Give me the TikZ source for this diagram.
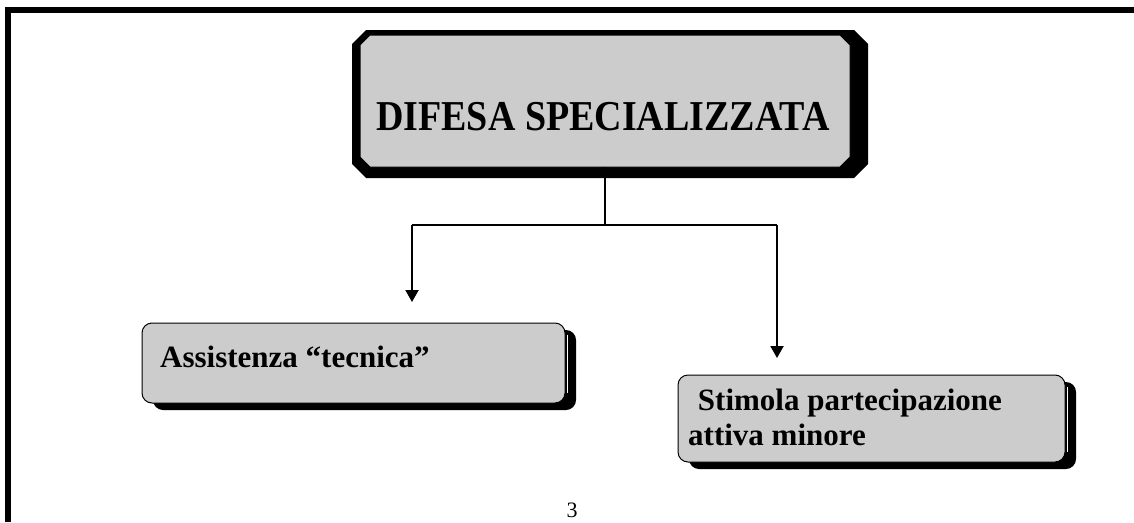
\documentclass[tikz,border=0pt]{standalone}
\usepackage{fontspec}
\setmainfont{Liberation Serif}
\usetikzlibrary{arrows.meta}
\definecolor{boxgray}{HTML}{CCCCCC}
\tikzset{
  frameline/.style={line width=6pt},
  conn/.style={line width=2pt},
  arr/.style={conn,-{Triangle[length=12pt,width=13pt]}},
  mainfill/.style={fill=boxgray, draw=black, line width=1pt},
  mainshadowfill/.style={fill=black},
  anchorbox/.style={rectangle, inner sep=0pt, draw=none},
  subbox/.style={rectangle, rounded corners=10pt, fill=boxgray, draw=black, line width=1pt, inner sep=0pt},
  subshadow/.style={rectangle, rounded corners=10pt, fill=black, inner sep=0pt},
  lbl/.style={font=\fontsize{31}{35}\selectfont\bfseries, anchor=base west, inner sep=0pt, align=left},
}
% chamfered polygon: x1 y1 x2 y2 chamfer
\newcommand\chamfpoly[6][]{%
  \path[#1] (#2+#6,#3) -- (#4-#6,#3) -- (#4,#3+#6) -- (#4,#5-#6) -- (#4-#6,#5)
    -- (#2+#6,#5) -- (#2,#5-#6) -- (#2,#3+#6) -- cycle;}
\begin{document}
\begin{tikzpicture}[x=1pt,y=-1pt]
\useasboundingbox (0,0) rectangle (1134,522);
% outer frame
\draw[frameline] (8,522) -- (8,10) -- (1134,10);
% main box (shadow + chamfered gray face)
\chamfpoly[mainshadowfill]{352}{30}{868}{178}{14}
\chamfpoly[mainfill]{360}{35}{850}{167}{10}
\node[anchorbox, minimum width=490pt, minimum height=132pt] (main) at (605,101) {};
\node[font=\fontsize{38}{40}\selectfont\bfseries, anchor=base, inner sep=0pt] (maintxt) at (603,130) {\scalebox{1}[1.12]{DIFESA SPECIALIZZATA}};
% left box
\node[subshadow, minimum width=423pt, minimum height=80pt] (lsh) at (364.5,370) {};
\node[subbox, minimum width=423pt, minimum height=80pt] (left) at (353.5,363) {};
\draw[white, line width=0.8pt] (left.north east) ++(1.6,12) -- ++(0,58);
\node[lbl] (lefttxt) at (160,367) {Assistenza “tecnica”};
% right box
\node[subshadow, minimum width=387pt, minimum height=87pt] (rsh) at (882.5,425.5) {};
\node[subbox, minimum width=387pt, minimum height=87pt] (right) at (871.5,418.5) {};
\draw[white, line width=0.8pt] (right.north east) ++(1.6,12) -- ++(0,65);
\node[lbl] (righttxt1) at (690,410) {\ Stimola partecipazione};
\node[lbl] (righttxt2) at (688,445) {attiva minore};
% connectors
\coordinate (split) at (605,225);
\coordinate (lj) at (412,225);
\coordinate (rj) at (777,225);
\coordinate (ltip) at (412,302);
\coordinate (rtip) at (777,358);
\draw[conn] (main.south -| split) -- (split);
\draw[conn] (lj) -- (rj);
\draw[arr] (lj) -- (ltip);
\draw[arr] (rj) -- (rtip);
% page number
\node[font=\fontsize{22}{24}\selectfont, anchor=base, inner sep=0pt] (pagenum) at (572,517) {3};
\end{tikzpicture}
\end{document}
